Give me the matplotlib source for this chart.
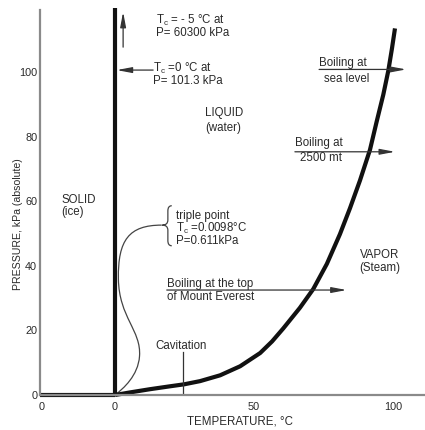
import numpy as np
import matplotlib
matplotlib.use("Agg")
import matplotlib.pyplot as plt
from matplotlib.path import Path
from matplotlib.patches import PathPatch

plt.rcParams['font.family'] = ['Liberation Sans', 'DejaVu Sans']

# boiling (liquid / vapour) curve
boil_T = [0, 5.4, 12.6, 19.8, 24.8, 30.6, 37.8, 45.0, 52.2, 56.5, 60.5, 66.5, 71.3,
		  76.2, 80.9, 84.5, 88.1, 91.7, 94.1, 96.5, 98.3, 99.6, 100.7]
boil_P = [0, 0.8, 1.8, 2.7, 3.3, 4.3, 6.1, 8.9, 13.0, 16.6, 20.6, 27.0, 32.8,
		  40.6, 49.8, 57.8, 66.4, 75.9, 84.6, 93.0, 100.4, 107.2, 113.5]

# solid / liquid line (vertical at 0 C) and solid / vapour line along P = 0
melt_T = [0, 0]
melt_P = [0, 119.8]
subl_T = [-27, 0]
subl_P = [0, 0]

ytick_vals = [0, 20, 40, 60, 80, 100]
xtick_vals = [-26.3, 0, 50, 100]
xtick_labels = ['0', '0', '50', '100']

txt = '#2a2a2a'
fs = 8.3

fig = plt.figure(figsize=(4.25, 4.30), dpi=100)
ax = fig.add_axes([40/425, 35/430, 385/425, 385/430])
ax.set_xlim(-27, 111.5)
ax.set_ylim(0, 119.2)

for s in ['top', 'right']:
	ax.spines[s].set_visible(False)
for s in ['left', 'bottom']:
	ax.spines[s].set_color('#8a8a8a')
	ax.spines[s].set_linewidth(1.6)

ax.set_yticks(ytick_vals)
ax.set_xticks(xtick_vals)
ax.set_xticklabels(xtick_labels)
ax.tick_params(axis='both', length=0, labelsize=7.8, colors=txt)
ax.tick_params(axis='y', pad=2)
ax.tick_params(axis='x', pad=5)
ax.set_yticks([100], minor=True)
ax.tick_params(axis='y', which='minor', direction='in', length=8, width=1.2, color='#8a8a8a')

# phase boundaries
lk = dict(color='#111111', lw=3, solid_capstyle='butt', solid_joinstyle='round', clip_on=False)
ax.plot(boil_T, boil_P, **lk)
ax.plot(melt_T, melt_P, **lk)
ax.plot(subl_T, subl_P, **lk)

# triple point leader (bezier) and brace
lead = [(16.8, 52.6), (5.0, 52.6), (1.0, 48.0), (1.2, 36.0),
		(1.4, 24.0), (9.5, 20.0), (8.8, 12.0),
		(8.3, 6.0), (3.0, 2.0), (0.0, 0.0)]
lead_codes = [Path.MOVETO] + [Path.CURVE4] * 9
ax.add_patch(PathPatch(Path(lead, lead_codes), fill=False, ec='#444444', lw=0.9))

xr, xm, xl = 20.4, 19.0, 17.0
yt, ymid, yb = 58.6, 52.6, 46.2
d = 1.6
verts = [(xr, yt), (xm, yt), (xm, yt - d),
		 (xm, ymid + d), (xm, ymid), (xl, ymid),
		 (xm, ymid), (xm, ymid - d),
		 (xm, yb + d), (xm, yb), (xr, yb)]
codes = [Path.MOVETO, Path.CURVE3, Path.CURVE3,
		 Path.LINETO, Path.CURVE3, Path.CURVE3,
		 Path.CURVE3, Path.CURVE3,
		 Path.LINETO, Path.CURVE3, Path.CURVE3]
ax.add_patch(PathPatch(Path(verts, codes), fill=False, ec='#444444', lw=0.9))

# arrows
arr = dict(arrowstyle='-|>,head_length=0.9,head_width=0.17', color='#333333', lw=0.9,
		   shrinkA=0, shrinkB=0)
ax.annotate('', xy=(2.9, 118.6), xytext=(2.9, 107.7), arrowprops=arr, annotation_clip=False)
ax.annotate('', xy=(0.6, 100.6), xytext=(13.7, 100.6), arrowprops=arr)
ax.annotate('', xy=(104.7, 100.8), xytext=(73.4, 100.8), arrowprops=arr)
ax.annotate('', xy=(100.7, 75.3), xytext=(64.7, 75.3), arrowprops=arr)
ax.annotate('', xy=(83.3, 32.5), xytext=(18.6, 32.5), arrowprops=arr)
ax.plot([24.3, 24.3], [13.4, 0], color='#333333', lw=0.9)

# labels
def label(x, y, s, ha='left'):
	ax.text(x, y, s, fontsize=fs, color=txt, ha=ha, va='center')

label(14.6, 116.1, 'T$_\\mathregular{c}$ = - 5 °C at')
label(14.6, 112.0, 'P= 60300 kPa')
label(13.8, 101.1, 'T$_\\mathregular{c}$ =0 °C at')
label(13.8, 97.2, 'P= 101.3 kPa')
label(32.4, 87.4, 'LIQUID')
label(32.4, 82.6, '(water)')
label(73.4, 102.9, 'Boiling at')
label(75.3, 97.8, 'sea level')
label(64.7, 77.9, 'Boiling at')
label(66.5, 73.3, '2500 mt')
label(-19.2, 60.4, 'SOLID')
label(-19.2, 56.7, '(ice)')
label(21.8, 55.4, 'triple point')
label(21.8, 51.6, 'T$_\\mathregular{c}$ =0.0098°C')
label(21.8, 47.8, 'P=0.611kPa')
label(18.6, 34.3, 'Boiling at the top')
label(18.6, 30.4, 'of Mount Everest')
label(95.3, 43.3, 'VAPOR', ha='center')
label(95.3, 39.2, '(Steam)', ha='center')
label(14.4, 15.3, 'Cavitation')

fig.text(18/425, 1 - 224/430, 'PRESSURE, kPa (absolute)', rotation=90,
		 fontsize=7.6, color=txt, ha='center', va='center')
fig.text(240/425, 1 - 422/430, 'TEMPERATURE, °C', fontsize=fs, color=txt,
		 ha='center', va='center')

fig.savefig('out.png', dpi=100)
